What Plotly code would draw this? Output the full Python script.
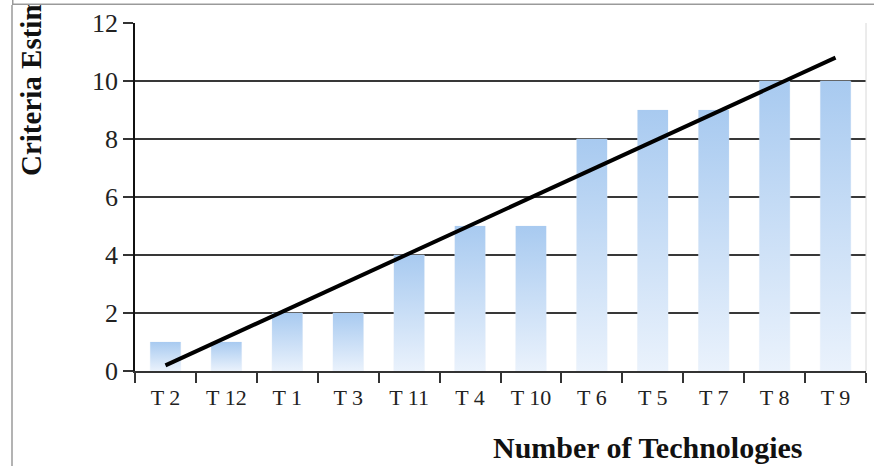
import numpy as np
import plotly.graph_objects as go

# Technologies ordered by criteria estimation score
categories = ["T 2", "T 12", "T 1", "T 3", "T 11", "T 4", "T 10", "T 6", "T 5", "T 7", "T 8", "T 9"]
scores = [1, 1, 2, 2, 4, 5, 5, 8, 9, 9, 10, 10]
y_ticks = [0, 2, 4, 6, 8, 10, 12]

x_title = "Number of Technologies"
y_title = "Criteria Estimation"

W, H = 874, 466
L, R, T, B = 135, 8, 23, 95
plot_w = W - L - R
plot_h = H - T - B

def px_x(p):
    return (p - L) / plot_w

def px_y(p):
    return (H - B - p) / plot_h

serif = "Liberation Serif"
bar_half = 0.25

fig = go.Figure()

# invisible category bars to drive the categorical axis (ticks on boundaries)
fig.add_trace(go.Bar(x=categories, y=scores, marker_color="rgba(0,0,0,0)",
                     hoverinfo="skip", showlegend=False))

# gradient-filled bars on a numeric overlay axis
idx = np.arange(len(categories))
for i, v in zip(idx, scores):
    fig.add_trace(go.Scatter(
        x=[i - bar_half, i + bar_half, i + bar_half, i - bar_half, i - bar_half],
        y=[0, 0, v, v, 0],
        xaxis="x2", mode="lines", line=dict(width=0),
        fill="toself",
        fillgradient=dict(type="vertical",
                          colorscale=[[0, "#eaf2fc"], [1, "#a8caf0"]]),
        hoverinfo="skip", showlegend=False))

# linear trend line
slope, intercept = np.polyfit(idx + 1, scores, 1)
fig.add_trace(go.Scatter(
    x=[idx[0], idx[-1]],
    y=[slope * (idx[0] + 1) + intercept, slope * (idx[-1] + 1) + intercept],
    xaxis="x2", mode="lines", line=dict(color="black", width=4),
    hoverinfo="skip", showlegend=False))

fig.update_layout(
    width=W, height=H,
    margin=dict(l=L, r=R, t=T, b=B),
    paper_bgcolor="white", plot_bgcolor="white",
    font=dict(family=serif, color="#222"),
    bargap=0.5,
    xaxis=dict(type="category", categoryorder="array", categoryarray=categories,
               range=[-0.5, len(categories) - 0.5],
               showline=True, linecolor="#333", linewidth=2,
               ticks="outside", tickson="boundaries", ticklen=10,
               tickcolor="#333", tickwidth=1.5, ticklabelstandoff=6,
               showgrid=False, zeroline=False,
               tickfont=dict(family=serif, size=22, color="#222")),
    xaxis2=dict(overlaying="x", range=[-0.5, len(categories) - 0.5],
                visible=False, fixedrange=True),
    yaxis=dict(range=[0, 12], tickvals=y_ticks,
               showline=True, linecolor="#111", linewidth=1.5,
               ticks="outside", ticklen=10, tickcolor="#333", tickwidth=1.5,
               showgrid=True, gridcolor="#383838", gridwidth=1.8,
               zeroline=False,
               tickfont=dict(family=serif, size=26, color="#222")),
    shapes=[
        # right edge of the plot area
        dict(type="line", xref="paper", yref="paper", x0=1, x1=1, y0=0, y1=1,
             line=dict(color="#d8d8d8", width=1)),
        # outer frame, left side
        dict(type="line", xref="paper", yref="paper",
             x0=px_x(12), x1=px_x(12), y0=px_y(H + 5), y1=px_y(5),
             line=dict(color="#9a9a9a", width=1.5)),
    ],
    annotations=[
        dict(text=x_title, xref="paper", yref="paper",
             x=px_x(647), y=px_y(447), xanchor="center", yanchor="middle",
             showarrow=False,
             font=dict(family=serif, size=30, color="#111", weight="bold")),
        dict(text=y_title, xref="paper", yref="paper", textangle=-90,
             x=px_x(31), y=px_y(178), xanchor="center", yanchor="bottom",
             showarrow=False,
             font=dict(family=serif, size=29, color="#111", weight="bold")),
        # outer frame top edge; its white fill trims the rotated title
        dict(text=" ", xref="paper", yref="paper",
             x=px_x(12), y=px_y(5), xanchor="left", yanchor="bottom",
             width=W, height=20, bgcolor="white",
             bordercolor="#9a9a9a", borderwidth=1.5, borderpad=0,
             showarrow=False),
    ],
)

fig.write_html("out.html")
